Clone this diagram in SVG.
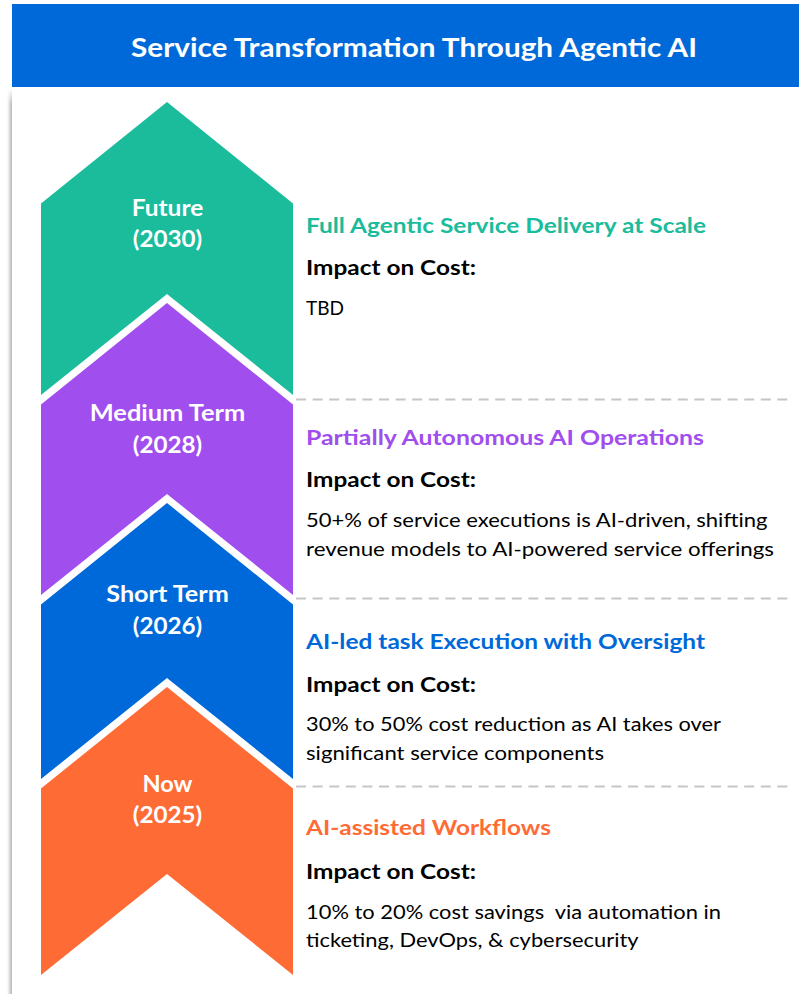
<svg xmlns="http://www.w3.org/2000/svg" width="799" height="994" viewBox="0 0 799 994">
<defs>
<style>
.t{font-family:Lato,"Open Sans","Liberation Sans",sans-serif;}
.b{font-weight:700;}
.lab{fill:#ffffff;font-size:22px;font-weight:700;text-anchor:middle;}
.h{font-size:21.5px;font-weight:700;}
.imp{font-size:21.5px;font-weight:700;fill:#000000;}
.body{font-size:19.5px;fill:#000000;white-space:pre;}
.sep{stroke:#c6c6c6;stroke-width:2;stroke-dasharray:10 6.6;fill:none;}
</style>
<linearGradient id="shadow" x1="0" y1="0" x2="1" y2="0">
<stop offset="0" stop-color="#ffffff" stop-opacity="0"/>
<stop offset="0.6" stop-color="#d8d8d8"/>
<stop offset="1" stop-color="#b8b8b8"/>
</linearGradient>
<linearGradient id="topfade" x1="0" y1="0" x2="0" y2="1">
<stop offset="0" stop-color="#ffffff" stop-opacity="1"/>
<stop offset="1" stop-color="#ffffff" stop-opacity="0"/>
</linearGradient>
</defs>
<rect x="0" y="0" width="799" height="994" fill="#ffffff"/>
<g id="panel-shadow">
<rect x="6" y="88" width="6" height="906" fill="url(#shadow)"/>
<rect x="0" y="88" width="14" height="16" fill="url(#topfade)"/>
</g>
<g id="title">
<rect x="12" y="4" width="787" height="83" fill="#0069d9"/>
<text class="t b" x="414" y="57" font-size="27" fill="#ffffff" text-anchor="middle" textLength="566" lengthAdjust="spacingAndGlyphs">Service Transformation Through Agentic AI</text>
</g>
<g id="separators">
<line class="sep" x1="296" y1="399.5" x2="793" y2="399.5"/>
<line class="sep" x1="296" y1="598.5" x2="793" y2="598.5"/>
<line class="sep" x1="296" y1="786.5" x2="793" y2="786.5"/>
</g>
<g id="future">
<polygon points="167,102 293,203.5 293,395 167,294 41,395 41,203.5" fill="#1abc9c"/>
<text class="t lab" x="167.5" y="216" textLength="71.5" lengthAdjust="spacingAndGlyphs">Future</text>
<text class="t lab" x="167.5" y="247" textLength="69.5" lengthAdjust="spacingAndGlyphs">(2030)</text>
<text class="t h" x="306" y="233" fill="#1abc9c" textLength="400" lengthAdjust="spacingAndGlyphs">Full Agentic Service Delivery at Scale</text>
<text class="t imp" x="306" y="275" textLength="170" lengthAdjust="spacingAndGlyphs">Impact on Cost:</text>
<text class="t body" x="306" y="315" textLength="38" lengthAdjust="spacingAndGlyphs">TBD</text>
</g>
<g id="medium">
<polygon points="167,303 293,404.5 293,595 167,494 41,595 41,404.5" fill="#a04eee"/>
<text class="t lab" x="167.5" y="421" textLength="155.5" lengthAdjust="spacingAndGlyphs">Medium Term</text>
<text class="t lab" x="167.5" y="452.5" textLength="69.5" lengthAdjust="spacingAndGlyphs">(2028)</text>
<text class="t h" x="306" y="444.5" fill="#a04eee" textLength="398" lengthAdjust="spacingAndGlyphs">Partially Autonomous AI Operations</text>
<text class="t imp" x="306" y="487" textLength="170" lengthAdjust="spacingAndGlyphs">Impact on Cost:</text>
<text class="t body" x="306" y="527" textLength="461.5" lengthAdjust="spacingAndGlyphs">50+% of service executions is AI-driven, shifting</text>
<text class="t body" x="306" y="555.5" textLength="468" lengthAdjust="spacingAndGlyphs">revenue models to AI-powered service offerings</text>
</g>
<g id="short">
<polygon points="167,503 293,604.5 293,779 167,678 41,779 41,604.5" fill="#0069d9"/>
<text class="t lab" x="167.5" y="602" textLength="122.5" lengthAdjust="spacingAndGlyphs">Short Term</text>
<text class="t lab" x="167.5" y="633.5" textLength="69.5" lengthAdjust="spacingAndGlyphs">(2026)</text>
<text class="t h" x="306" y="649" fill="#0069d9" textLength="399" lengthAdjust="spacingAndGlyphs">AI-led task Execution with Oversight</text>
<text class="t imp" x="306" y="692" textLength="170" lengthAdjust="spacingAndGlyphs">Impact on Cost:</text>
<text class="t body" x="306" y="731" textLength="415" lengthAdjust="spacingAndGlyphs">30% to 50% cost reduction as AI takes over</text>
<text class="t body" x="306" y="759.5" textLength="298" lengthAdjust="spacingAndGlyphs">significant service components</text>
</g>
<g id="now">
<polygon points="167,687 293,788.5 293,975 167,874 41,975 41,788.5" fill="#ff6b35"/>
<text class="t lab" x="167.5" y="791.5" textLength="50" lengthAdjust="spacingAndGlyphs">Now</text>
<text class="t lab" x="167.5" y="823" textLength="69.5" lengthAdjust="spacingAndGlyphs">(2025)</text>
<text class="t h" x="306" y="835" fill="#ff6b35" textLength="245" lengthAdjust="spacingAndGlyphs">AI-assisted Workflows</text>
<text class="t imp" x="306" y="878.5" textLength="170" lengthAdjust="spacingAndGlyphs">Impact on Cost:</text>
<text class="t body" x="306" y="918.5" textLength="415" lengthAdjust="spacingAndGlyphs">10% to 20% cost savings  via automation in</text>
<text class="t body" x="306" y="947" textLength="332.5" lengthAdjust="spacingAndGlyphs">ticketing, DevOps, &amp; cybersecurity</text>
</g>
</svg>
